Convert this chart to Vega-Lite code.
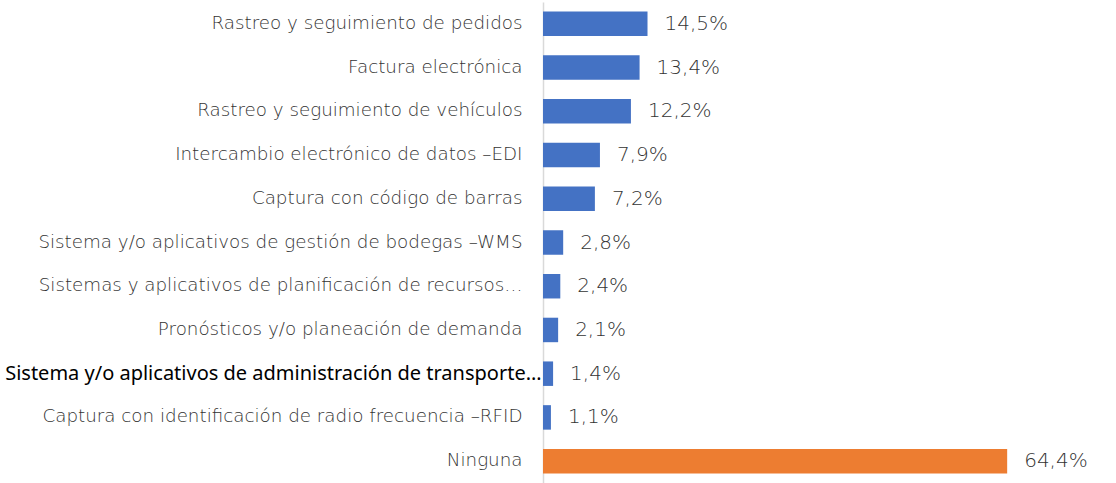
{
  "$schema": "https://vega.github.io/schema/vega-lite/v6.json",
  "autosize": {"type": "none"},
  "padding": {"left": 543, "top": 2, "right": 0, "bottom": 0},
  "width": 573,
  "height": 481,
  "background": "white",
  "config": {
    "view": {"stroke": null},
    "locale": {"number": {"decimal": ",", "thousands": ".", "grouping": [3], "currency": ["", " €"]}}
  },
  "data": {
    "values": [
      {"categoria": "Rastreo y seguimiento de pedidos", "valor": 0.145},
      {"categoria": "Factura electrónica", "valor": 0.134},
      {"categoria": "Rastreo y seguimiento de vehículos", "valor": 0.122},
      {"categoria": "Intercambio electrónico de datos –EDI", "valor": 0.079},
      {"categoria": "Captura con código de barras", "valor": 0.072},
      {"categoria": "Sistema y/o aplicativos de gestión de bodegas –WMS", "valor": 0.028},
      {"categoria": "Sistemas y aplicativos de planificación de recursos…", "valor": 0.024},
      {"categoria": "Pronósticos y/o planeación de demanda", "valor": 0.021},
      {"categoria": "Sistema y/o aplicativos de administración de transporte…", "valor": 0.014},
      {"categoria": "Captura con identificación de radio frecuencia –RFID", "valor": 0.011},
      {"categoria": "Ninguna", "valor": 0.644}
    ]
  },
  "encoding": {
    "y": {
      "field": "categoria",
      "type": "nominal",
      "sort": null,
      "scale": {"paddingInner": 0.44, "paddingOuter": 0.22},
      "axis": {
        "title": null,
        "ticks": false,
        "domainColor": "#d9d9d9",
        "domainWidth": 1.5,
        "labelPadding": {"condition": {"test": "datum.value == 'Sistema y/o aplicativos de administración de transporte…'", "value": 2}, "value": 21},
        "labelLimit": 600,
        "labelFontSize": {"condition": {"test": "datum.value == 'Sistema y/o aplicativos de administración de transporte…'", "value": 20}, "value": 18.3},
        "labelFont": {"condition": {"test": "datum.value == 'Sistema y/o aplicativos de administración de transporte…'", "value": "Noto Sans"}, "value": "DejaVu Sans"},
        "labelFontWeight": {"condition": {"test": "datum.value == 'Sistema y/o aplicativos de administración de transporte…'", "value": "normal"}, "value": 300},
        "labelColor": {"condition": {"test": "datum.value == 'Sistema y/o aplicativos de administración de transporte…'", "value": "#000000"}, "value": "#333333"}
      }
    },
    "x": {
      "field": "valor",
      "type": "quantitative",
      "scale": {"domain": [0, 0.795]},
      "axis": null
    }
  },
  "layer": [
    {
      "mark": {"type": "bar"},
      "encoding": {
        "color": {
          "condition": {"test": "datum.categoria == 'Ninguna'", "value": "#ED7D31"},
          "value": "#4472C4"
        }
      }
    },
    {
      "mark": {"type": "text", "align": "left", "dx": 17, "fontSize": 20, "font": "DejaVu Sans", "fontWeight": 300, "color": "#333333"},
      "encoding": {
        "text": {"field": "valor", "type": "quantitative", "format": ".1%"}
      }
    }
  ]
}
